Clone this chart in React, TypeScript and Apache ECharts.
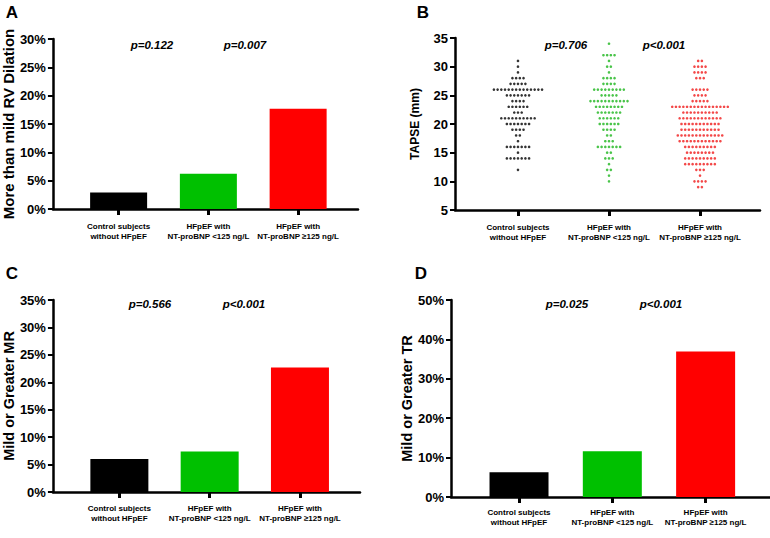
import React, { useEffect, useRef } from 'react';
import * as echarts from 'echarts';

const categories = ['Control subjects\nwithout HFpEF', 'HFpEF with\nNT-proBNP <125 ng/L', 'HFpEF with\nNT-proBNP ≥125 ng/L'];
const barColors = ['#000000', '#00c000', '#ff0000'];

// Panel A, C, D: percentage of subjects
const rvDilation = [2.9, 6.2, 17.7];
const mildMR = [6.0, 7.4, 22.7];
const mildTR = [6.3, 11.6, 36.9];

// Panel B: TAPSE (mm) -> [value, number of subjects]
const tapseControl = [[31, 1], [30, 1], [29, 1], [28, 4], [27, 5], [26, 14], [25, 7], [24, 4], [23, 6], [22, 3], [21, 10], [20, 7], [19, 4], [18, 2], [17, 1], [16, 7], [15, 1], [14, 7], [12, 1]];
const tapseLowBNP = [[34, 1], [32, 4], [31, 1], [30, 2], [29, 1], [28, 4], [27, 4], [26, 9], [25, 5], [24, 11], [23, 8], [22, 7], [21, 6], [20, 6], [19, 4], [18, 2], [17, 3], [16, 7], [15, 2], [14, 3], [13, 1], [12, 2], [11, 1], [10, 1]];
const tapseHighBNP = [[31, 2], [30, 4], [29, 4], [28, 3], [26, 5], [25, 4], [24, 5], [23, 16], [22, 10], [21, 12], [20, 11], [19, 11], [18, 13], [17, 12], [16, 9], [15, 8], [14, 9], [13, 9], [12, 3], [11, 1], [10, 4], [9, 2]];

const pValuesA = ['p=0.122', 'p=0.007'];
const pValuesB = ['p=0.706', 'p<0.001'];
const pValuesC = ['p=0.566', 'p<0.001'];
const pValuesD = ['p=0.025', 'p<0.001'];

const FONT = '"Liberation Sans", Arial, sans-serif';

function swarm(group: number, counts: number[][], dx: number) {
  const pts: number[][] = [];
  counts.forEach(([v, n]) => {
    for (let j = 0; j < n; j++) pts.push([group + (j - (n - 1) / 2) * dx, v]);
  });
  return pts;
}

function xAxis(gridIndex: number, min: number, max: number, margin: number) {
  return {
    type: 'value', gridIndex, min, max,
    splitLine: { show: false },
    axisLine: { show: true, onZero: false, lineStyle: { color: '#000', width: 2.5 } },
    axisTick: { show: true, customValues: [1, 2, 3], length: 6, lineStyle: { color: '#000', width: 3 } },
    axisLabel: {
      show: true, customValues: [1, 2, 3],
      formatter: (v: number) => categories[Math.round(v) - 1] ?? '',
      fontSize: 8, fontWeight: 'bold', color: '#000', lineHeight: 10, margin, fontFamily: FONT,
    },
  };
}

function yAxis(gridIndex: number, min: number, max: number, interval: number, name: string, nameGap: number, nameSize: number, pct: boolean) {
  return {
    type: 'value', gridIndex, min, max, interval, name,
    nameLocation: 'middle', nameGap, nameRotate: 90,
    nameTextStyle: { fontSize: nameSize, fontWeight: 'bold', color: '#000', fontFamily: FONT },
    splitLine: { show: false },
    axisLine: { show: true, lineStyle: { color: '#000', width: 2.5 } },
    axisTick: { show: true, length: 5, lineStyle: { color: '#000', width: 2 } },
    axisLabel: { formatter: pct ? '{value}%' : '{value}', fontSize: 13, fontWeight: 'bold', color: '#000', margin: 7, fontFamily: FONT },
  };
}

function bars(idx: number, values: number[], width: number) {
  return {
    type: 'bar', xAxisIndex: idx, yAxisIndex: idx, barWidth: width,
    data: values.map((v, k) => ({ value: [k + 1, v], itemStyle: { color: barColors[k] } })),
  };
}

function ptext(x: number, y: number, text: string) {
  return {
    type: 'text', x, y,
    style: { text, align: 'center', verticalAlign: 'middle', fontSize: 11.5, fontWeight: 'bold', fontStyle: 'italic', fill: '#000', fontFamily: FONT },
  };
}

function letter(x: number, y: number, text: string) {
  return {
    type: 'text', x, y,
    style: { text, align: 'center', verticalAlign: 'middle', fontSize: 17, fontWeight: 'bold', fill: '#000', fontFamily: FONT },
  };
}

export default function App() {
  const ref = useRef<HTMLDivElement>(null);
  useEffect(() => {
    if (!ref.current) return;
    const chart = echarts.init(ref.current, undefined, { renderer: 'svg' });
    const dx = 0.0407;
    chart.setOption({
      animation: false,
      backgroundColor: '#fff',
      grid: [
        { left: 47, top: 39, width: 311, height: 170 },
        { left: 455, top: 38, width: 305, height: 172 },
        { left: 48, top: 300, width: 312, height: 192 },
        { left: 451, top: 300, width: 319, height: 197 },
      ],
      xAxis: [
        xAxis(0, 0.268, 3.667, 12),
        xAxis(1, 0.308, 3.659, 12),
        xAxis(2, 0.264, 3.665, 11),
        xAxis(3, 0.271, 3.69, 10),
      ],
      yAxis: [
        yAxis(0, 0, 30, 5, 'More than mild RV Dilation', 33, 15, true),
        yAxis(1, 5, 35, 5, 'TAPSE (mm)', 34, 12, false),
        yAxis(2, 0, 35, 5, 'Mild or Greater MR', 35, 14.5, true),
        yAxis(3, 0, 50, 10, 'Mild or Greater TR', 32, 14.5, true),
      ],
      series: [
        bars(0, rvDilation, 57),
        {
          type: 'scatter', xAxisIndex: 1, yAxisIndex: 1, symbol: 'circle', symbolSize: 2.6,
          itemStyle: { color: barColors[0] }, data: swarm(1, tapseControl, dx),
        },
        {
          type: 'scatter', xAxisIndex: 1, yAxisIndex: 1, symbol: 'circle', symbolSize: 2.6,
          itemStyle: { color: '#1cb51c' }, data: swarm(2, tapseLowBNP, dx),
        },
        {
          type: 'scatter', xAxisIndex: 1, yAxisIndex: 1, symbol: 'circle', symbolSize: 2.6,
          itemStyle: { color: '#f01a1a' }, data: swarm(3, tapseHighBNP, dx),
        },
        bars(2, mildMR, 58),
        bars(3, mildTR, 59),
      ],
      graphic: [
        letter(12, 12, 'A'),
        letter(423, 12, 'B'),
        letter(12, 273, 'C'),
        letter(421, 273, 'D'),
        ptext(152, 45, pValuesA[0]),
        ptext(245, 45, pValuesA[1]),
        ptext(566, 45, pValuesB[0]),
        ptext(664, 45, pValuesB[1]),
        ptext(150, 304, pValuesC[0]),
        ptext(244, 304, pValuesC[1]),
        ptext(567, 304, pValuesD[0]),
        ptext(661, 304, pValuesD[1]),
      ],
    });
    return () => chart.dispose();
  }, []);
  return <div ref={ref} style={{ position: 'fixed', left: 0, top: 0, width: 770, height: 538, background: '#fff' }} />;
}
